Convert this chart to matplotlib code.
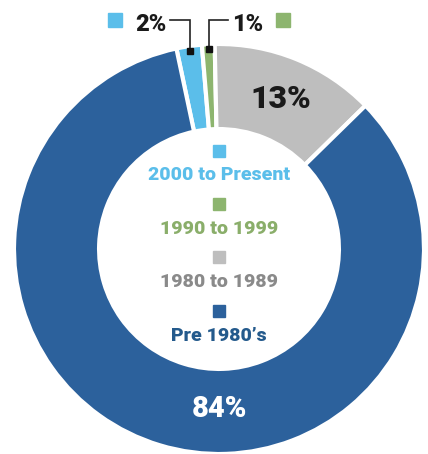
import matplotlib.pyplot as plt
import numpy as np

plt.rcParams['font.family'] = ['Roboto', 'DejaVu Sans']

categories = ['2000 to Present', '1990 to 1999', '1980 to 1989', "Pre 1980\u2019s"]
values = [2, 1, 13, 84]
colors = ['#5BBEEA', '#8DB56F', '#BEBEBE', '#2C619C']
text_colors = ['#5BBEEA', '#8AAE6A', '#8A8A8A', '#245A8C']

W, H = 428, 454
fig = plt.figure(figsize=(W / 100, H / 100), dpi=100)
ax = fig.add_axes([0, 0, 1, 1])

wedges, _ = ax.pie(values, colors=colors, startangle=102, counterclock=False,
                   radius=1.0, wedgeprops=dict(width=0.415, edgecolor='white', linewidth=3))

# pixel -> data: centre at (219, 249) px, radius 205 px
R_PX = 205.0
cx, cy = 219.0, 249.0
ax.set_xlim(-cx / R_PX, (W - cx) / R_PX)
ax.set_ylim(-(H - cy) / R_PX, cy / R_PX)
ax.set_aspect('equal')
ax.axis('off')

# big labels inside the ring
g = wedges[2]
mid = np.deg2rad((g.theta1 + g.theta2) / 2)
ax.text(0.80 * np.cos(mid), 0.80 * np.sin(mid) - 0.01, '13%', ha='center', va='center',
        fontsize=23, fontweight='black', color='#1A1A1A')
ax.text(0, -0.78, '84%', ha='center', va='center', fontsize=21, fontweight='black', color='white')

# leader lines for the small slices
line_y = (cy - 20) / R_PX
for i, side in [(0, -1), (1, 1)]:
    w = wedges[i]
    a = np.deg2rad((w.theta1 + w.theta2) / 2)
    mx, my = 0.975 * np.cos(a), 0.975 * np.sin(a)
    ex = mx + side * 0.095
    ax.plot([ex, mx, mx], [line_y, line_y, my], color='#222222', lw=1.2, solid_joinstyle='miter')
    ax.plot(mx, my, 's', color='#111111', markersize=4.5)
    pct = f'{values[i]}%'
    if side < 0:
        ax.text(ex - 0.02, line_y - 0.02, pct, ha='right', va='center',
                fontsize=17, fontweight='black', color='#1A1A1A')
        ax.plot(ex - 0.27, line_y, 's', color=colors[i], markersize=10.5)
    else:
        ax.text(ex + 0.02, line_y - 0.02, pct, ha='left', va='center',
                fontsize=17, fontweight='black', color='#1A1A1A')
        ax.plot(ex + 0.27, line_y, 's', color=colors[i], markersize=10.5)

# centre legend
sq_y = [151, 204, 257, 311]
lab_y = [175, 229, 282, 336]
for k in range(len(categories)):
    ax.plot(0, (cy - sq_y[k]) / R_PX, 's', color=colors[k], markersize=8.6)
    ax.text(0, (cy - lab_y[k]) / R_PX, categories[k], ha='center', va='center',
            fontsize=14, fontweight='black', color=text_colors[k])

fig.savefig('out.png', dpi=100)
